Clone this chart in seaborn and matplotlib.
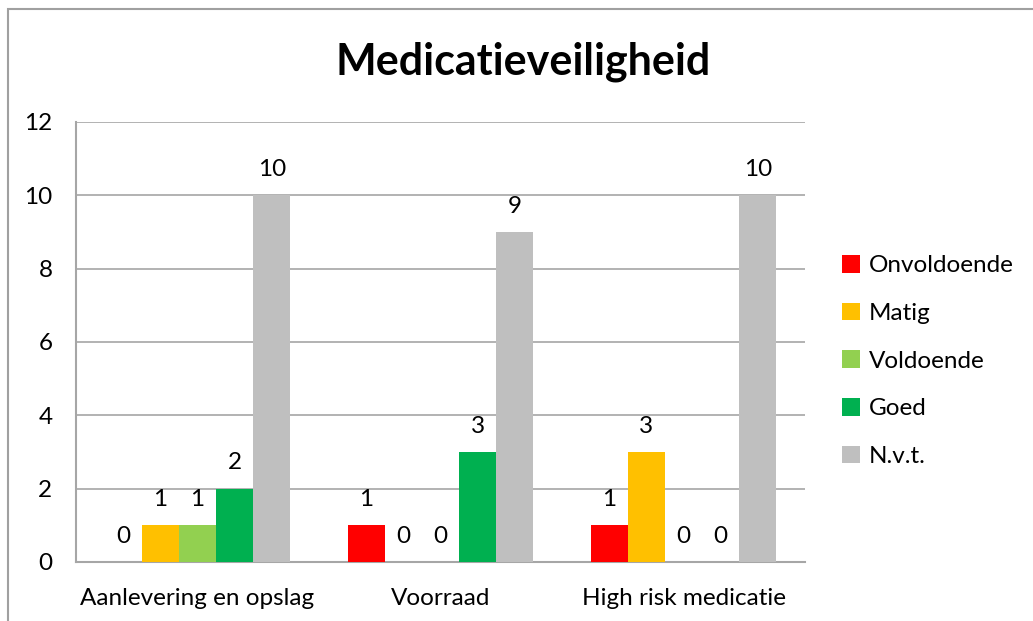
import matplotlib
matplotlib.use("Agg")
import matplotlib.pyplot as plt
from matplotlib.patches import Rectangle
import seaborn as sns
import pandas as pd

categories = ["Aanlevering en opslag", "Voorraad", "High risk medicatie"]
series = ["Onvoldoende", "Matig", "Voldoende", "Goed", "N.v.t."]
onvoldoende = [0, 1, 1]
matig = [1, 0, 3]
voldoende = [1, 0, 0]
goed = [2, 3, 0]
nvt = [10, 9, 10]
colors = ["#FF0000", "#FFC000", "#92D050", "#00B050", "#BFBFBF"]
yticks = [0, 2, 4, 6, 8, 10, 12]

values = [onvoldoende, matig, voldoende, goed, nvt]
rows = []
for s, vals in zip(series, values):
    for c, v in zip(categories, vals):
        rows.append({"Categorie": c, "Serie": s, "Aantal": v})
df = pd.DataFrame(rows)

sns.set_theme(style="white")
plt.rcParams["font.family"] = ["Lato", "DejaVu Sans"]
plt.rcParams["text.color"] = "black"
plt.rcParams["xtick.color"] = "black"
plt.rcParams["ytick.color"] = "black"

fig = plt.figure(figsize=(10.33, 6.21), dpi=100)
ax = fig.add_axes([76/1033, 1-562/621, (805-76)/1033, (562-122)/621])

sns.barplot(data=df, x="Categorie", y="Aantal", hue="Serie", order=categories,
            hue_order=series, palette=colors, width=0.764, gap=0, saturation=1,
            ax=ax, errorbar=None, zorder=3, linewidth=0, edgecolor="none")

fs = 17.5
for cont in ax.containers:
    ax.bar_label(cont, fmt="%d", padding=11, fontsize=fs, color="black")

ax.set_ylim(0, 12)
ax.set_yticks(yticks)
ax.set_xlim(-0.5, 2.5)
ax.yaxis.grid(True, color="#A6A6A6", linewidth=1.2, zorder=0)
ax.set_axisbelow(True)
for sp in ["top", "right"]:
    ax.spines[sp].set_visible(False)
for sp in ["left", "bottom"]:
    ax.spines[sp].set_color("#A6A6A6")
    ax.spines[sp].set_linewidth(1.5)
ax.tick_params(axis="y", length=0, pad=17, labelsize=fs, labelcolor="black")
ax.tick_params(axis="x", length=0, pad=19, labelsize=fs, labelcolor="black")
ax.set_xlabel("")
ax.set_ylabel("")

handles, labels = ax.get_legend_handles_labels()
ax.get_legend().remove()
fig.legend(handles, labels, loc="center left", bbox_to_anchor=(820/1033, 1-361/621),
           frameon=False, fontsize=fs, handlelength=0.75, handleheight=0.75,
           handletextpad=0.35, labelspacing=1.08)

fig.text(523/1033, 1-62/621, "Medicatieveiligheid", ha="center", va="center",
         fontsize=31, fontweight="bold", color="black")

fig.patches.append(Rectangle((8/1033, -0.1), 1.2, 1-9/621+0.1, transform=fig.transFigure,
                             fill=False, edgecolor="#A0A0A0", linewidth=1.5))

fig.savefig("out.png", dpi=100)
